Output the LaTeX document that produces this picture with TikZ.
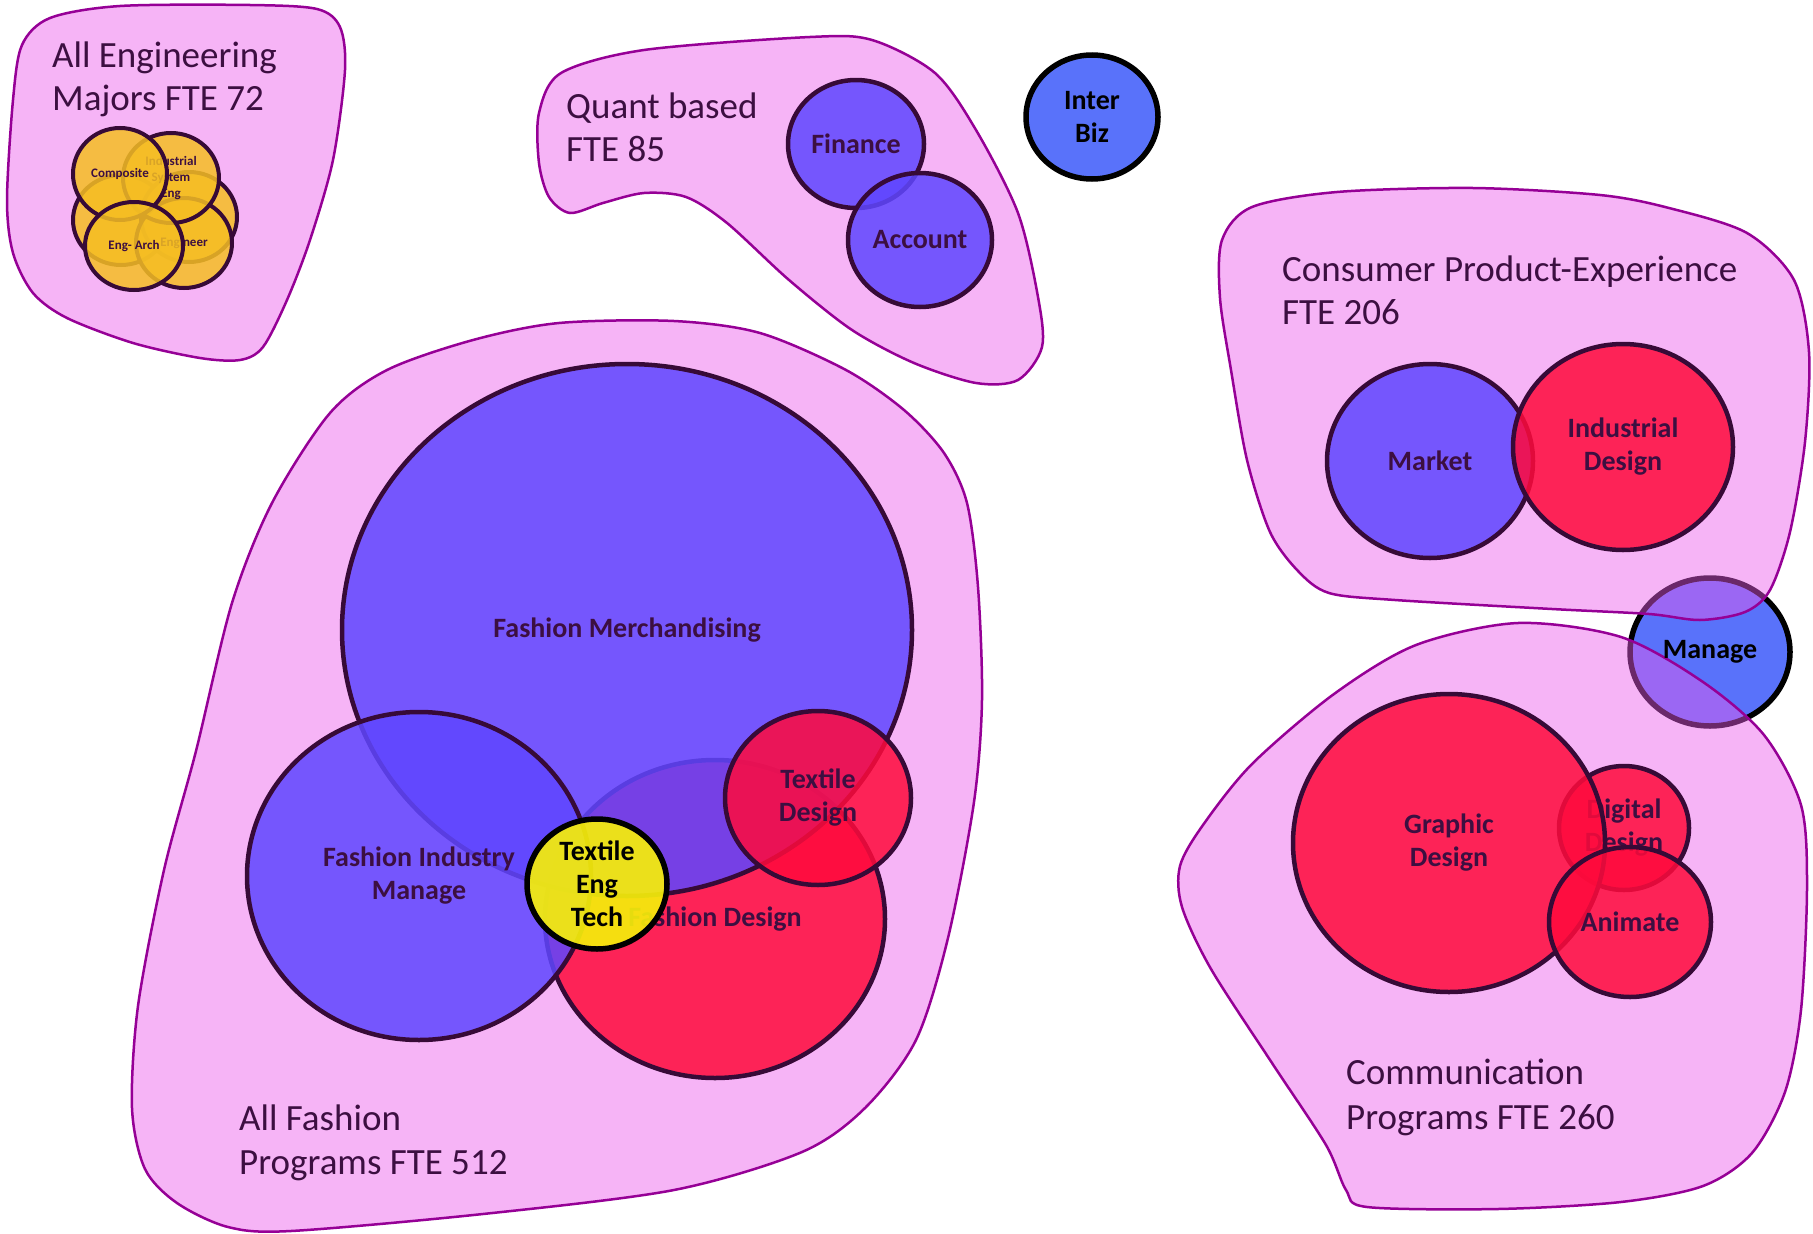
\documentclass[tikz,border=0pt]{standalone}
\usepackage{fontspec}
\setmainfont{Carlito}
\usetikzlibrary{shapes.geometric}
\definecolor{blobfill}{RGB}{236,90,236}
\definecolor{blobline}{RGB}{150,0,150}
\definecolor{bluef}{RGB}{95,70,255}
\definecolor{bluetwo}{RGB}{60,90,250}
\definecolor{redf}{RGB}{255,10,60}
\definecolor{yelf}{RGB}{245,190,35}
\definecolor{tetf}{RGB}{245,238,10}
\definecolor{ring}{RGB}{55,10,55}
\definecolor{txt}{RGB}{60,15,65}
\tikzset{
  blob/.style={draw=blobline, line width=2.5pt, fill=blobfill, fill opacity=0.45},
  venn/.style={ellipse, draw=ring, line width=4.5pt, fill opacity=0.85, inner sep=0pt, outer sep=0pt},
  bluec/.style={venn, fill=bluef},
  redc/.style={venn, fill=redf},
  yelc/.style={venn, fill=yelf, line width=4pt},
  strongc/.style={venn, draw=black, line width=5.5pt, fill=bluetwo},
  tetc/.style={venn, draw=black, line width=5.5pt, fill=tetf, fill opacity=0.92},
  ttl/.style={anchor=base west, inner sep=0pt, text=txt, font=\fontsize{37}{44}\selectfont},
  lab/.style={align=center, inner sep=0pt, text=txt, font=\fontsize{28}{33}\selectfont\bfseries},
  blab/.style={lab, text=black},
  slab/.style={align=center, inner sep=0pt, text=txt, font=\fontsize{13}{16}\selectfont\bfseries},
}
\begin{document}
\begin{tikzpicture}[x=1pt, y=-1pt]
\fill[white] (0,0) rectangle (1813,1234);
\useasboundingbox (0,0) rectangle (1813,1234);

% free-standing circles under the blobs
\node[strongc, minimum width=132pt, minimum height=124pt] (interbiz) at (1092,117) {};
\node[blab] (interbizL) at (interbiz) {Inter\\Biz};
\node[strongc, minimum width=160pt, minimum height=148pt] (manage) at (1710,652) {};

% blobs
\draw[blob] plot[smooth cycle] coordinates {(13,100) (22,45) (50,18) (120,6) (250,5) (317,9) (340,27) (345,70) (333,160) (310,240) (287,300) (263,347) (240,360) (200,358) (133,343) (67,318) (33,293) (13,253) (7,200)};
\draw[blob] plot[smooth cycle] coordinates {(561,73) (644,50) (810,37) (872,40) (935,73) (976,130) (1018,213) (1038,297) (1042,347) (1018,380) (976,383) (914,363) (852,330) (789,280) (727,223) (686,197) (644,193) (603,203) (570,213) (549,197) (539,163) (539,113)};
\draw[blob] plot[smooth cycle] coordinates {(387,370) (473,340) (559,323) (674,321) (760,333) (846,370) (904,410) (944,453) (967,503) (978,587) (982,700) (974,802) (948,938) (916,1040) (865,1108) (802,1152) (674,1190) (483,1214) (291,1231) (228,1227) (177,1203) (145,1169) (132,1108) (138,1006) (164,870) (196,751) (232,603) (272,503) (330,413)};
\draw[blob] plot[smooth cycle] coordinates {(1222,240) (1252,207) (1337,192) (1473,188) (1600,195) (1669,208) (1747,233) (1794,280) (1809,352) (1805,442) (1790,532) (1770,590) (1745,612) (1700,620) (1649,614) (1552,609) (1395,600) (1329,593) (1298,571) (1270,532) (1247,460) (1231,370) (1220,298)};
\draw[blob] plot[smooth cycle] coordinates {(1518,623) (1621,637) (1703,682) (1764,735) (1801,805) (1807,887) (1801,1010) (1785,1092) (1752,1153) (1703,1186) (1621,1202) (1498,1209) (1367,1207) (1346,1190) (1326,1145) (1272,1063) (1211,969) (1182,907) (1180,866) (1203,825) (1252,764) (1334,694) (1416,645)};

% titles
\node[ttl] (engT1) at (52,67) {All Engineering};
\node[ttl] (engT2) at (52,110) {Majors FTE 72};
\node[ttl] (quT1) at (566,118) {Quant based};
\node[ttl] (quT2) at (566,161) {FTE 85};
\node[ttl] (coT1) at (1282,281) {Consumer Product-Experience};
\node[ttl] (coT2) at (1282,324) {FTE 206};
\node[ttl] (faT1) at (239,1130) {All Fashion};
\node[ttl] (faT2) at (239,1174) {Programs FTE 512};
\node[ttl] (cmT1) at (1346,1084) {Communication};
\node[ttl] (cmT2) at (1346,1129) {Programs FTE 260};

% engineering cluster
\node[yelc, minimum width=96pt, minimum height=90pt] (engl) at (121,220) {};
\node[yelc, minimum width=96pt, minimum height=90pt] (engr) at (189,217) {};
\node[yelc, minimum width=96pt, minimum height=90pt] (engeng) at (184,243) {};
\node[slab] (engengL) at (engeng) {Engineer};
\node[yelc, minimum width=96pt, minimum height=90pt] (engind) at (171,178) {};
\node[slab] (engindL) at (engind) {Industrial\\System\\Eng};
\node[yelc, minimum width=94pt, minimum height=92pt] (engcomp) at (120,174) {};
\node[slab] (engcompL) at (engcomp) {Composite};
\node[yelc, minimum width=98pt, minimum height=88pt] (engarch) at (134,246) {};
\node[slab] (engarchL) at (engarch) {Eng- Arch};

% quant
\node[bluec, minimum width=136pt, minimum height=128pt] (fin) at (856,144) {};
\node[lab] (finL) at (fin) {Finance};
\node[bluec, minimum width=144pt, minimum height=134pt] (acc) at (920,240) {};
\node[lab] (accL) at (acc) {Account};

% consumer
\node[bluec, minimum width=206pt, minimum height=194pt] (mkt) at (1430,461) {};
\node[lab] (mktL) at (mkt) {Market};
\node[redc, minimum width=220pt, minimum height=206pt] (ind) at (1623,447) {};
\node[lab] (indL) at (ind) {Industrial\\Design};

% communication
\node[redc, minimum width=130pt, minimum height=124pt] (dig) at (1624,828) {};
\node[lab] (digL) at (dig) {Digital\\Design};
\node[redc, minimum width=312pt, minimum height=298pt] (gra) at (1449,843) {};
\node[lab] (graL) at (gra) {Graphic\\Design};
\node[redc, minimum width=162pt, minimum height=150pt] (ani) at (1630,922) {};
\node[lab] (aniL) at (ani) {Animate};

% fashion
\node[redc, minimum width=340pt, minimum height=318pt] (fd) at (715,919) {};
\node[lab] (fdL) at (fd) {Fashion Design};
\node[bluec, minimum width=570pt, minimum height=532pt] (fm) at (627,630) {};
\node[lab] (fmL) at (fm) {Fashion Merchandising};
\node[bluec, minimum width=344pt, minimum height=328pt] (fim) at (419,876) {};
\node[lab] (fimL) at (fim) {Fashion Industry\\Manage};
\node[redc, minimum width=186pt, minimum height=174pt] (td) at (818,798) {};
\node[lab] (tdL) at (td) {Textile\\Design};
\node[tetc, minimum width=140pt, minimum height=130pt] (tet) at (597,884) {};
\node[blab] (tetL) at (tet) {Textile\\Eng\\Tech};

% manage label on top
\node[blab] (manageL) at (manage) {Manage};
\end{tikzpicture}
\end{document}
